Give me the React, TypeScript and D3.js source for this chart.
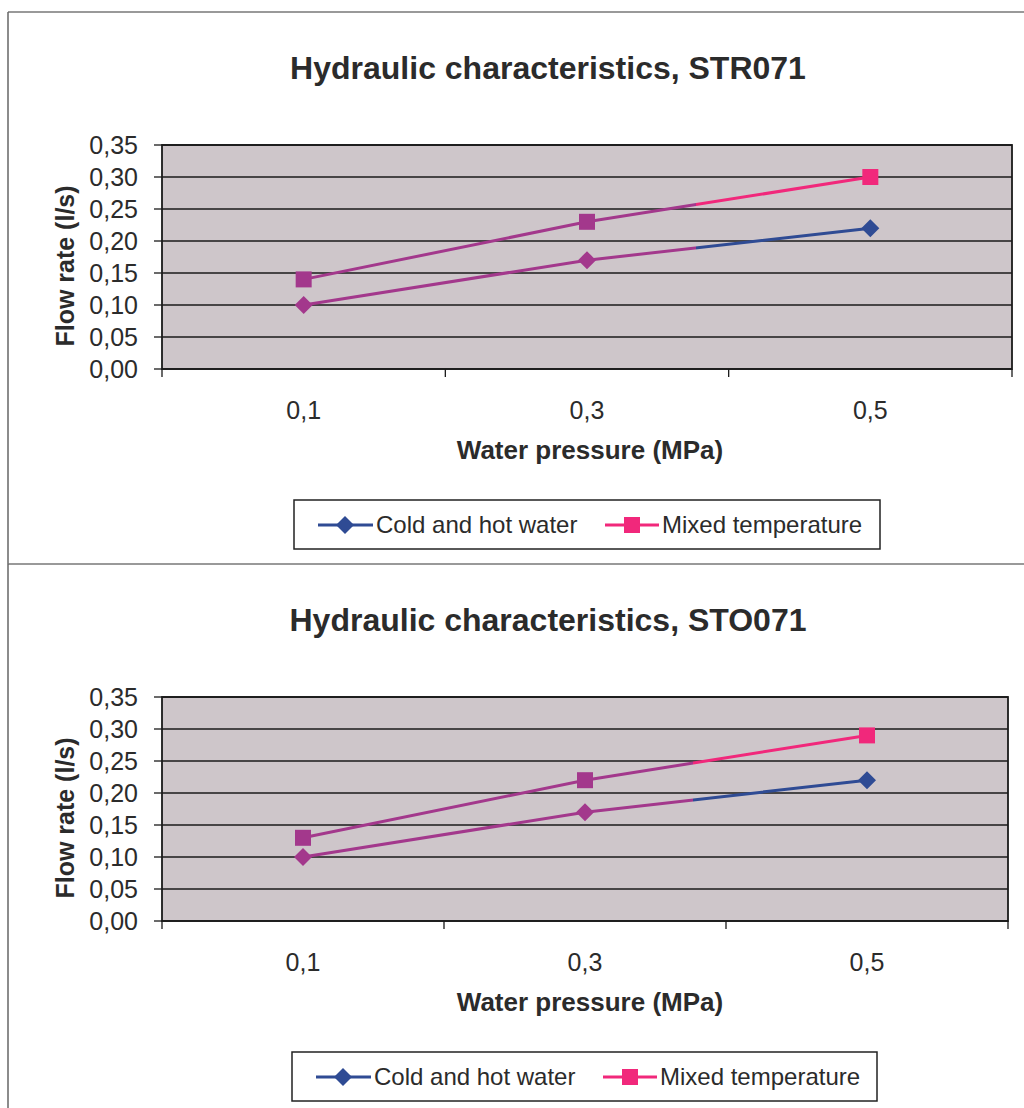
import * as d3 from "d3";

// x categories (water pressure, MPa)
const pressures = ["0,1", "0,3", "0,5"];
const yTickValues = [0, 0.05, 0.1, 0.15, 0.2, 0.25, 0.3, 0.35];

// STR071
const str071Cold = [0.1, 0.17, 0.22];
const str071Mixed = [0.14, 0.23, 0.3];

// STO071
const sto071Cold = [0.1, 0.17, 0.22];
const sto071Mixed = [0.13, 0.22, 0.29];

const seriesNames = ["Cold and hot water", "Mixed temperature"];

const FONT = "'Liberation Sans', Arial, sans-serif";
const INK = "#2b2b2b";
const BLUE = "#2f4b94";
const PINK = "#f1287b";
const PURPLE = "#a3388c";
const PLOT_BG = "#cec6ca";

const fmt = (v) => d3.format(".2f")(v).replace(".", ",");

function Panel({ id, top, title, cold, mixed, plotRight, legendRight, legendShift }) {
  const plotLeft = 162;
  const plotTop = top + 145;
  const plotBottom = top + 369;

  const x = d3.scaleBand().domain(pressures).range([plotLeft, plotRight]).padding(0);
  const y = d3.scaleLinear().domain([0, 0.35]).range([plotBottom, plotTop]);
  const cx = (i) => x(pressures[i]) + x.bandwidth() / 2;

  const line = d3
    .line()
    .x((d, i) => cx(i))
    .y((d) => y(d));

  // the scanned lines shift from purple to their own colour part way along
  const shift = 0.628;
  const grads = [
    { gid: id + "-cold", color: BLUE },
    { gid: id + "-mixed", color: PINK },
  ];

  const diamond = (px, py, r) =>
    `M${px},${py - r}L${px + r},${py}L${px},${py + r}L${px - r},${py}Z`;

  const bounds = x.domain().map((d) => x(d)).concat([plotRight]);
  const midY = (plotTop + plotBottom) / 2;

  const legTop = top + 500;
  const legLeft = 294;

  return (
    <g>
      <defs>
        {grads.map((g) => (
          <linearGradient
            key={g.gid}
            id={g.gid}
            gradientUnits="userSpaceOnUse"
            x1={plotLeft}
            x2={plotRight}
            y1={0}
            y2={0}
          >
            <stop offset={0} stopColor={PURPLE} />
            <stop offset={shift} stopColor={PURPLE} />
            <stop offset={shift} stopColor={g.color} />
            <stop offset={1} stopColor={g.color} />
          </linearGradient>
        ))}
      </defs>

      {/* frame */}
      <line x1={8} x2={1024} y1={top + 12} y2={top + 12} stroke="#777" strokeWidth={1.5} />
      <line x1={8} x2={8} y1={top + 12} y2={top + 564} stroke="#666" strokeWidth={1.5} />

      <text
        x={548}
        y={top + 79}
        textAnchor="middle"
        fontFamily={FONT}
        fontWeight="bold"
        fontSize={32}
        fill={INK}
      >
        {title}
      </text>

      {/* plot area */}
      <rect
        x={plotLeft}
        y={plotTop}
        width={plotRight - plotLeft}
        height={plotBottom - plotTop}
        fill={PLOT_BG}
      />
      {yTickValues.map((t) => (
        <g key={t}>
          <line x1={plotLeft} x2={plotRight} y1={y(t)} y2={y(t)} stroke="#1a1a1a" strokeWidth={1.6} />
          <line x1={plotLeft - 8} x2={plotLeft} y1={y(t)} y2={y(t)} stroke="#1a1a1a" strokeWidth={1.3} />
          <text
            x={138}
            y={y(t)}
            dy="0.36em"
            textAnchor="end"
            fontFamily={FONT}
            fontSize={25}
            fill={INK}
          >
            {fmt(t)}
          </text>
        </g>
      ))}
      <rect
        x={plotLeft}
        y={plotTop}
        width={plotRight - plotLeft}
        height={plotBottom - plotTop}
        fill="none"
        stroke="#1a1a1a"
        strokeWidth={1.8}
      />
      {bounds.map((b, i) => (
        <line key={i} x1={b} x2={b} y1={plotBottom} y2={plotBottom + 8} stroke="#1a1a1a" strokeWidth={1.3} />
      ))}
      {pressures.map((p) => (
        <text
          key={p}
          x={x(p) + x.bandwidth() / 2}
          y={top + 419}
          textAnchor="middle"
          fontFamily={FONT}
          fontSize={25}
          fill={INK}
        >
          {p}
        </text>
      ))}

      <text
        x={590}
        y={top + 459}
        textAnchor="middle"
        fontFamily={FONT}
        fontWeight="bold"
        fontSize={26}
        fill={INK}
      >
        Water pressure (MPa)
      </text>
      <text
        transform={`translate(74,${midY + 9}) rotate(-90)`}
        textAnchor="middle"
        fontFamily={FONT}
        fontWeight="bold"
        fontSize={25}
        fill={INK}
      >
        Flow rate (l/s)
      </text>

      {/* series */}
      <path d={line(cold)} fill="none" stroke={`url(#${id}-cold)`} strokeWidth={3} />
      <path d={line(mixed)} fill="none" stroke={`url(#${id}-mixed)`} strokeWidth={3} />
      {cold.map((v, i) => (
        <path key={"c" + i} d={diamond(cx(i), y(v), 9)} fill={`url(#${id}-cold)`} />
      ))}
      {mixed.map((v, i) => (
        <rect
          key={"m" + i}
          x={cx(i) - 8}
          y={y(v) - 8}
          width={16}
          height={16}
          fill={`url(#${id}-mixed)`}
        />
      ))}

      {/* legend */}
      <rect
        x={legLeft + legendShift}
        y={legTop}
        width={legendRight - legLeft - legendShift}
        height={49}
        fill="#fff"
        stroke="#222"
        strokeWidth={1.5}
      />
      <line x1={318 + legendShift} x2={373 + legendShift} y1={legTop + 25} y2={legTop + 25} stroke={BLUE} strokeWidth={3} />
      <path d={diamond(345 + legendShift, legTop + 25, 9)} fill={BLUE} />
      <text x={376 + legendShift} y={legTop + 33} fontFamily={FONT} fontSize={24} fill={INK}>
        {seriesNames[0]}
      </text>
      <line x1={605 + legendShift} x2={659 + legendShift} y1={legTop + 25} y2={legTop + 25} stroke={PINK} strokeWidth={3} />
      <rect x={624 + legendShift} y={legTop + 17} width={16} height={16} fill={PINK} />
      <text x={662 + legendShift} y={legTop + 33} fontFamily={FONT} fontSize={24} fill={INK}>
        {seriesNames[1]}
      </text>
    </g>
  );
}

export default function App() {
  return (
    <svg
      width={1024}
      height={1108}
      style={{ position: "absolute", left: 0, top: 0, background: "#fff" }}
    >
      <rect width={1024} height={1108} fill="#fff" />
      <Panel
        id="str"
        top={0}
        title="Hydraulic characteristics, STR071"
        cold={str071Cold}
        mixed={str071Mixed}
        plotRight={1012}
        legendRight={880}
        legendShift={0}
      />
      <Panel
        id="sto"
        top={552}
        title="Hydraulic characteristics, STO071"
        cold={sto071Cold}
        mixed={sto071Mixed}
        plotRight={1008}
        legendRight={877}
        legendShift={-2}
      />
    </svg>
  );
}
